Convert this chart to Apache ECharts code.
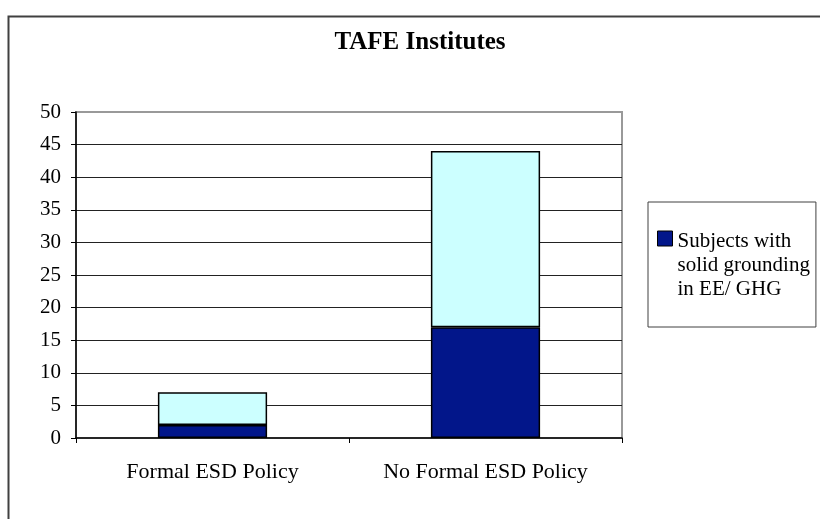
<!DOCTYPE html>
<html>
<head>
<meta charset="utf-8">
<style>
html,body{margin:0;padding:0;background:#fff;}
#chart{width:820px;height:519px;}
</style>
<script src="https://cdn.jsdelivr.net/npm/echarts@6/dist/echarts.min.js"></script>
</head>
<body>
<div id="chart"></div>
<script>
const titleText = 'TAFE Institutes';
const categories = ['Formal ESD Policy', 'No Formal ESD Policy'];
const solidGrounding = [2, 17];
const otherSubjects = [5, 27];
const seriesNames = ['Subjects with solid grounding in EE/ GHG', 'Other subjects'];
const yMin = 0, yMax = 50, yStep = 5;

const FONT = 'Liberation Serif';
const chart = echarts.init(document.getElementById('chart'), null, {renderer: 'canvas'});
const option = {
  animation: false,
  backgroundColor: '#fff',
  title: {
    text: titleText,
    left: 420,
    top: 30,
    padding: 0,
    textAlign: 'center',
    textStyle: {fontFamily: FONT, fontSize: 25, fontWeight: 'bold', color: '#000'}
  },
  graphic: [{
    type: 'rect', left: 6, top: 14, silent: true,
    shape: {x: 0, y: 0, width: 840, height: 530},
    style: {fill: 'none', stroke: '#404040', lineWidth: 2}
  }],
  legend: {
    data: [seriesNames[0]],
    left: 648,
    top: 202,
    orient: 'vertical',
    selectedMode: false,
    borderColor: '#404040',
    borderWidth: 1,
    padding: [27, 6, 26, 9],
    itemWidth: 15,
    itemHeight: 68,
    itemGap: 5,
    icon: 'path://M0,0H15V15H0Z M0,68h0.01',
    itemStyle: {borderColor: '#000', borderWidth: 1},
    formatter: () => 'Subjects with\nsolid grounding\nin EE/ GHG',
    textStyle: {fontFamily: FONT, fontSize: 21, color: '#000', lineHeight: 24, padding: [0, 0, 0, 0]}
  },
  grid: {
    left: 76, right: 198, top: 112, bottom: 81,
    show: true, borderColor: '#999', borderWidth: 2, backgroundColor: 'transparent'
  },
  xAxis: {
    type: 'category',
    data: categories,
    axisLine: {show: true, lineStyle: {color: '#000', width: 1.5}},
    axisTick: {show: true, length: 5, alignWithLabel: false, lineStyle: {color: '#000'}},
    axisLabel: {fontFamily: FONT, fontSize: 22, color: '#000', margin: 23},
    splitLine: {show: false}
  },
  yAxis: {
    type: 'value',
    min: yMin, max: yMax, interval: yStep,
    axisLine: {show: true, lineStyle: {color: '#000', width: 1.5}},
    axisTick: {show: true, length: 5, lineStyle: {color: '#000'}},
    axisLabel: {fontFamily: FONT, fontSize: 21, color: '#000', margin: 15},
    splitLine: {show: true, showMaxLine: false, showMinLine: false, lineStyle: {color: '#222', width: 1}}
  },
  series: [
    {
      name: seriesNames[0], type: 'bar', stack: 'total', data: solidGrounding,
      barWidth: '40%',
      itemStyle: {color: '#02168A', borderColor: '#000', borderWidth: 1.5}
    },
    {
      name: seriesNames[1], type: 'bar', stack: 'total', data: otherSubjects,
      barWidth: '40%',
      itemStyle: {color: '#CCFFFF', borderColor: '#000', borderWidth: 1.5}
    }
  ]
};
chart.setOption(option);
</script>
</body>
</html>
